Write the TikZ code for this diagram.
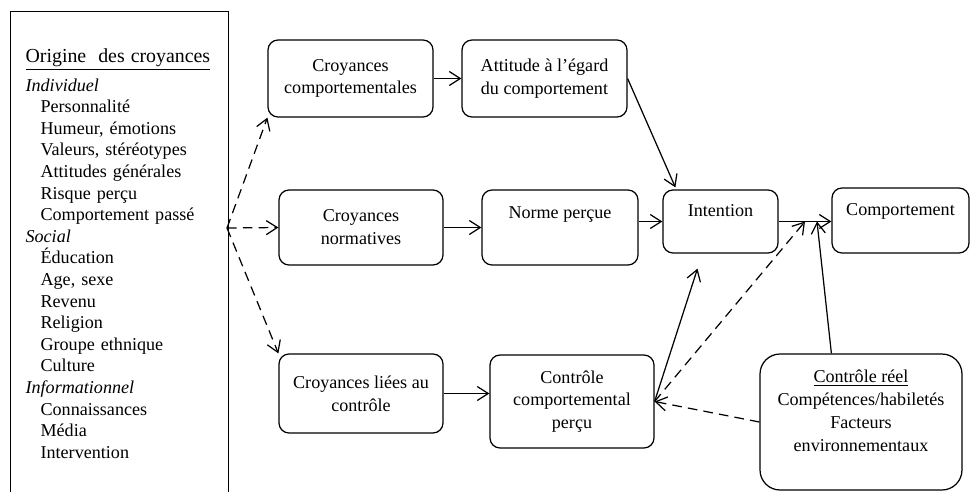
\documentclass[tikz,border=0pt]{standalone}
\usepackage{fontspec}
\setmainfont{Liberation Serif}
\usepackage{tikz}
\usetikzlibrary{arrows.meta}
\newcommand{\sousitem}[1]{\hspace*{0.3cm}#1}

\begin{document}
\begin{tikzpicture}[x=0.02cm,y=-0.02cm,font=\fontsize{10.3}{13}\selectfont,
    bloc/.style={draw,rounded corners=0.2cm,align=center,line width=0.7pt},
    fleche/.style={-{Straight Barb[length=2.2mm,width=2.8mm]},line width=0.7pt},
    tirets/.style={fleche,dash pattern=on 5.5pt off 3.5pt}]
  \useasboundingbox (0,0) rectangle (971,491);
  % origine des croyances
  \node[draw,line width=0.7pt,anchor=north west,text width=3.76cm,minimum height=9.68cm,
        inner xsep=0.3cm,align=left,font=\fontsize{10.3}{12.3}\selectfont] (origine) at (10,11) {%
    {\fontsize{11.3}{13}\selectfont\underline{Origine\ \ des croyances}}\\[4pt]
    \textit{Individuel}\\
    \sousitem{Personnalité}\\
    \sousitem{Humeur, émotions}\\
    \sousitem{Valeurs, stéréotypes}\\
    \sousitem{Attitudes générales}\\
    \sousitem{Risque perçu}\\
    \sousitem{Comportement passé}\\
    \textit{Social}\\
    \sousitem{Éducation}\\
    \sousitem{Age, sexe}\\
    \sousitem{Revenu}\\
    \sousitem{Religion}\\
    \sousitem{Groupe ethnique}\\
    \sousitem{Culture}\\
    \textit{Informationnel}\\
    \sousitem{Connaissances}\\
    \sousitem{Média}\\
    \sousitem{Intervention}};
  \coordinate (src) at (227,228);

  \node[bloc,minimum width=3.3cm,minimum height=1.54cm] (cc) at (350.5,78.5) {Croyances\\comportementales};
  \node[bloc,minimum width=3.3cm,minimum height=1.54cm] (att) at (544.5,78.5) {Attitude à l'égard\\du comportement};
  \node[bloc,minimum width=3.28cm,minimum height=1.5cm] (cn) at (361,227.5) {Croyances\\normatives};
  \node[bloc,minimum width=3.12cm,minimum height=1.5cm,text depth=17pt] (np) at (560,227.5) {Norme perçue};
  \node[bloc,minimum width=3.28cm,minimum height=1.58cm] (cl) at (361,393.5) {Croyances liées au\\contrôle};
  \node[bloc,minimum width=3.28cm,minimum height=1.86cm] (ccp) at (572,401.5) {Contrôle\\comportemental\\perçu};
  \node[bloc,minimum width=2.3cm,minimum height=1.26cm,text depth=12pt] (int) at (720.5,221.5) {Intention};
  \node[bloc,minimum width=2.74cm,minimum height=1.3cm,text depth=12pt] (comp) at (900.5,220.5) {Comportement};
  \node[bloc,rounded corners=0.4cm,minimum width=4.04cm,minimum height=2.72cm,text depth=13pt] (cr) at (861,422)
    {\underline{Contrôle réel}\\Compétences/habiletés\\Facteurs\\environnementaux};

  \coordinate (p1) at (805,221.5);
  \coordinate (p2) at (817,221.5);

  \draw[tirets] (src) -- (cc.south west);
  \draw[tirets] (src) -- (cn.west);
  \draw[tirets] (src) -- (cl.north west);
  \draw[fleche] (cc) -- (att);
  \draw[fleche] (att.east) -- ([shift={(13,-2)}]int.north west);
  \draw[fleche] (cn) -- (np);
  \draw[fleche] (np.east |- int) -- (int.west);
  \draw[fleche] (int.east) -- (int.east -| comp.west);
  \draw[fleche] (cl.east) -- (cl.east -| ccp.west);
  \draw[fleche] (ccp.east) -- ([shift={(-23,15)}]int.south);
  \draw[tirets] (ccp.east) -- (p1);
  \draw[fleche] (cr.north -| comp.west) -- (p2);
  \draw[tirets] (cr.west) -- (ccp.east);
\end{tikzpicture}
\end{document}
